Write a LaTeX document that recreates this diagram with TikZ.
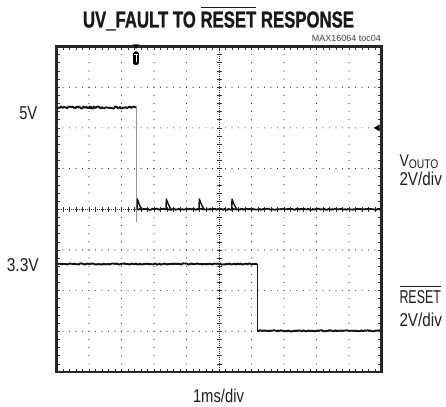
\documentclass[tikz,border=0pt]{standalone}
\usepackage{graphicx}
\usepackage{fontspec}
\setmainfont{Liberation Sans}
\newfontfamily\labfont{Liberation Sans}[FakeStretch=0.82]
\newfontfamily\titlefont{Liberation Sans}[BoldFeatures={FakeBold=1.3}]
\usetikzlibrary{decorations.pathmorphing}
\newcommand\ovlbar[3]{\leavevmode\vbox{\hrule height #1\kern #2\hbox{#3}}}
\newcommand\fitw[2]{\resizebox{#1}{\height}{#2}}
\begin{document}
\begin{tikzpicture}[x=1pt,y=-1pt,
  gdot/.style={fill=black!80},
  gtick/.style={draw=black!80,line width=0.6pt},
  noisy/.style={decorate, decoration={random steps, segment length=1.0pt, amplitude=1.0pt}},
  quiet/.style={decorate, decoration={random steps, segment length=1.3pt, amplitude=0.6pt}},
  trace/.style={line width=1.9pt, draw=black!92, line join=round},
  lab/.style={font=\labfont\fontsize{18.6}{20}\selectfont, text=black!88, inner sep=0pt}]
\pgfmathsetseed{7}
\useasboundingbox (0,0) rectangle (446,406);
\fill[white] (0,0) rectangle (446,406);
\def\XL{56.5}\def\XR{381.5}\def\YT{46.5}\def\YB{372}
% dotted grid lines
\foreach \i in {1,2,3,4,6,7,8,9}{
  \foreach \k in {1,...,39}{
    \fill[gdot] ({\XL+\i*32.5},{\YT+\k*8.1375}) circle (0.6pt);
  }
}
\foreach \j in {1,2,3,5,6,7}{
  \foreach \k in {1,...,49}{
    \fill[gdot] ({\XL+\k*6.5},{\YT+\j*40.6875}) circle (0.6pt);
  }
}
% centre axes
\draw[black!80,line width=0.6pt,dash pattern=on 0.8pt off 1.2pt] (219,\YT) -- (219,\YB);
\draw[black!80,line width=0.6pt,dash pattern=on 0.8pt off 1.2pt] (\XL,209.25) -- (\XR,209.25);
\foreach \k in {1,...,39}{
  \draw[gtick] (216.5,{\YT+\k*8.1375}) -- (221.5,{\YT+\k*8.1375});
}
\foreach \k in {1,...,49}{
  \draw[gtick] ({\XL+\k*6.5},206.75) -- ({\XL+\k*6.5},211.75);
}
% border ticks
\foreach \k in {1,...,49}{
  \draw[gtick] ({\XL+\k*6.5},\YT) -- ++(0,3.5);
  \draw[gtick] ({\XL+\k*6.5},\YB) -- ++(0,-3.5);
}
\foreach \k in {1,...,39}{
  \draw[gtick] (\XL,{\YT+\k*8.1375}) -- ++(3.5,0);
  \draw[gtick] (\XR,{\YT+\k*8.1375}) -- ++(-3.5,0);
}
% traces: VOUT
\draw[trace,noisy] (\XL,107.5) -- (136.7,107.5);
\draw[black!42,line width=1.3pt] (136.7,107.5) -- (136.7,222);
\draw[black!92,line width=1.4pt,line join=round]
  (137.2,209.3) -- (137.4,199) -- (138.8,203) -- (140.3,207) -- (141.5,209.3)
  (166,209.3) -- (166.3,199) -- (168,203.5) -- (170,207.5) -- (171.2,209.3)
  (199,209.3) -- (199.3,199) -- (201,203.5) -- (203,207.5) -- (204.2,209.3)
  (231.7,209.3) -- (232,199) -- (233.7,203.5) -- (235.7,207.5) -- (236.9,209.3);
\draw[trace,line width=1.8pt,quiet] (137.2,209.3) -- (\XR,209.3);
% traces: RESET
\draw[trace,quiet] (\XL,264) -- (257.3,264);
\draw[black!92,line width=1.2pt] (257.3,264) -- (257.3,330.8);
\draw[trace,quiet] (257.3,330.8) -- (\XR,330.8);
% border
\draw[line width=2.6pt,black!85] (\XL,\YT) rectangle (\XR,\YB);
% trigger marker
\fill[black] (132.8,44.5) -- (139.2,44.5) -- (136,48.8) -- cycle;
\fill[black,rounded corners=1.6pt] (133.2,51.5) rectangle (138.8,65);
\draw[white,line width=0.9pt] (134.4,54.2) -- (137.6,54.2) (136,54.2) -- (136,62.3);
% level marker
\fill[black] (373.8,127.9) -- (379.6,124.4) -- (379.6,131.4) -- cycle;
% texts
\node[anchor=base, inner sep=0pt, text=black!90, font=\titlefont\bfseries\fontsize{23}{26}\selectfont] (title) at (218.5,27.5)
  {\fitw{271pt}{UV\_FAULT TO \ovlbar{1.3pt}{3pt}{RESET} RESPONSE}};
\node[anchor=base east, inner sep=0pt, text=black!75, font=\fontsize{9}{10}\selectfont] (toc) at (381,42) {MAX16064 toc04};
\node[lab, anchor=base east] (l5v) at (37.5,119.5) {\fitw{18pt}{5V}};
\node[lab, anchor=base east] (l33v) at (39,271) {\fitw{32pt}{3.3V}};
\node[lab, anchor=base west] (lvout) at (399.3,166.8) {\fitw{39pt}{\fontsize{17}{18}\selectfont V\raisebox{-2pt}{\fontsize{12.5}{13}\selectfont OUTO}}};
\node[lab, anchor=base west] (lvdiv) at (399.3,185) {\fitw{42.4pt}{2V/div}};
\node[lab, anchor=base west] (lrst) at (399.3,303.3) {\fitw{41.5pt}{\ovlbar{0.9pt}{3.5pt}{RESET}}};
\node[lab, anchor=base west] (lrdiv) at (399.3,326.7) {\fitw{42.4pt}{2V/div}};
\node[lab, anchor=base] (ltime) at (218.5,402) {\fitw{51pt}{1ms/div}};
\end{tikzpicture}
\end{document}
